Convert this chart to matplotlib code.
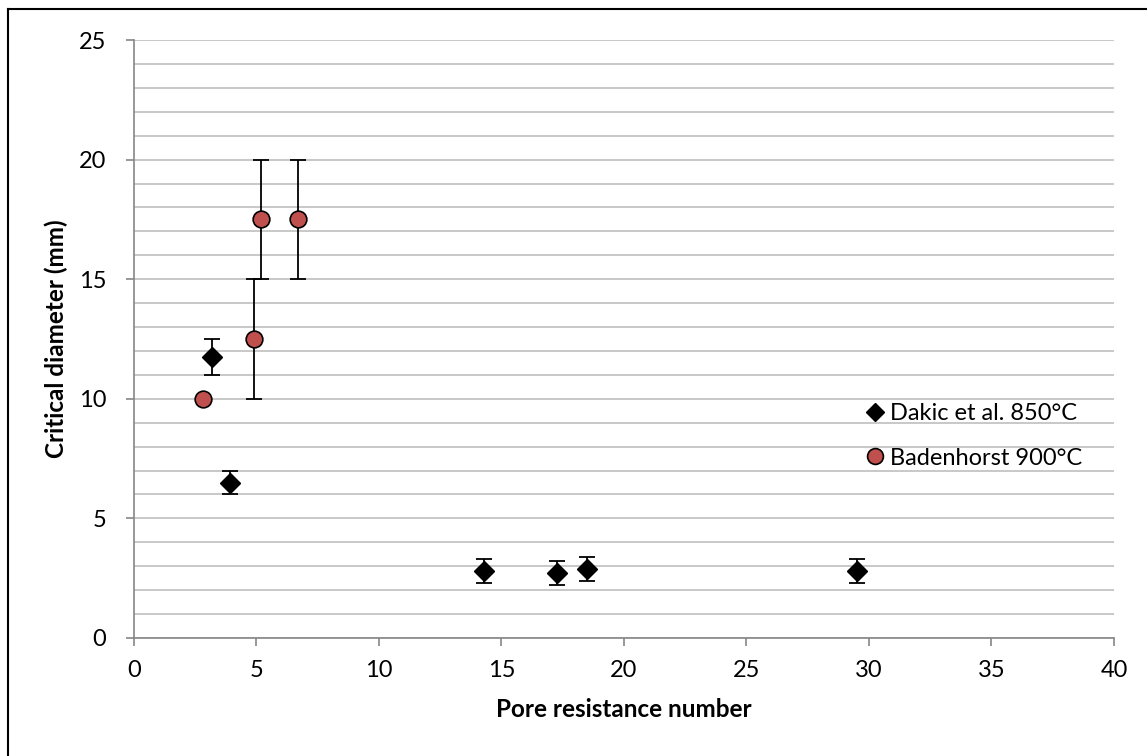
import numpy as np
import matplotlib.pyplot as plt
from matplotlib.ticker import MultipleLocator
from matplotlib.lines import Line2D

plt.rcParams['font.family'] = ['Lato', 'DejaVu Sans']

# Dakic et al. 850 C
dakic_x = [3.2, 3.9, 14.3, 17.25, 18.5, 29.5]
dakic_y = [11.75, 6.5, 2.8, 2.7, 2.9, 2.8]
dakic_err = [0.75, 0.5, 0.5, 0.5, 0.5, 0.5]

# Badenhorst 900 C
bad_x = [2.8, 4.9, 5.2, 6.7]
bad_y = [10.0, 12.5, 17.5, 17.5]
bad_err = [0.0, 2.5, 2.5, 2.5]

fig = plt.figure(figsize=(11.47, 7.56), dpi=100)
ax = fig.add_axes([0.1168, 0.1561, 0.8544, 0.7909])

# Chart frame (only the top and left edges fall inside the image)
fig.lines.append(Line2D([0.007, 0.007], [0.0, 0.988], transform=fig.transFigure,
                        color='black', linewidth=1.5))
fig.lines.append(Line2D([0.007, 1.0], [0.988, 0.988], transform=fig.transFigure,
                        color='black', linewidth=1.5))

ax.errorbar(bad_x, bad_y, yerr=bad_err, fmt='none', ecolor='black', elinewidth=1.3,
            capsize=6, capthick=1.3, zorder=3)
ax.errorbar(dakic_x, dakic_y, yerr=dakic_err, fmt='none', ecolor='black', elinewidth=1.3,
            capsize=6, capthick=1.3, zorder=3)
ax.plot(dakic_x, dakic_y, 'D', color='black', markersize=10, linestyle='none',
        label='Dakic et al. 850°C', zorder=4)
ax.plot(bad_x, bad_y, 'o', markerfacecolor='#C0504D', markeredgecolor='black',
        markeredgewidth=1.2, markersize=12, linestyle='none',
        label='Badenhorst 900°C', zorder=4)

ax.set_xlim(0, 40)
ax.set_ylim(0, 25)
ax.xaxis.set_major_locator(MultipleLocator(5))
ax.yaxis.set_major_locator(MultipleLocator(5))
ax.yaxis.set_minor_locator(MultipleLocator(1))
ax.grid(True, which='both', axis='y', color='#BFBFBF', linewidth=1.2)
ax.set_axisbelow(True)

for s in ['top', 'right']:
    ax.spines[s].set_visible(False)
for s in ['left', 'bottom']:
    ax.spines[s].set_color('#868686')
    ax.spines[s].set_linewidth(1.2)
ax.tick_params(axis='both', which='major', direction='out', length=6, color='#868686',
               width=1.2, labelsize=17)
ax.tick_params(axis='x', which='major', pad=10)
ax.tick_params(axis='y', which='major', pad=14)
ax.tick_params(axis='y', which='minor', length=0)

ax.set_xlabel('Pore resistance number', fontsize=17.5, fontweight='bold', labelpad=12)
ax.set_ylabel('Critical diameter (mm)', fontsize=17.5, fontweight='bold', labelpad=8)

ax.legend(loc='center left', bbox_to_anchor=(0.732, 0.338), frameon=False, fontsize=17,
          handletextpad=0.15, labelspacing=1.0, handlelength=1.0, borderpad=0,
          markerscale=0.95)

fig.savefig('out.png', dpi=100)
